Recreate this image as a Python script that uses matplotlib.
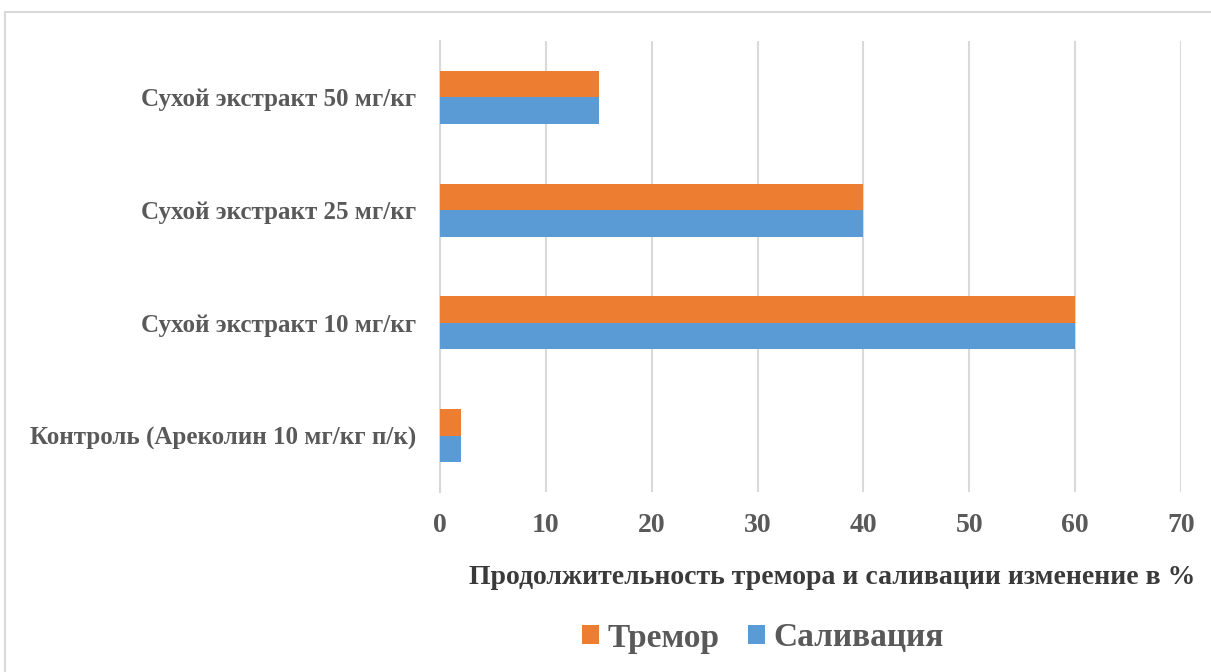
import matplotlib
matplotlib.use("Agg")
import matplotlib.pyplot as plt
from matplotlib.patches import Rectangle, Patch
import numpy as np

categories = [
    "Контроль (Ареколин 10 мг/кг п/к)",
    "Сухой экстракт 10 мг/кг",
    "Сухой экстракт 25 мг/кг",
    "Сухой экстракт 50 мг/кг",
]
tremor = [2, 60, 40, 15]
salivation = [2, 60, 40, 15]
series_names = ["Тремор", "Саливация"]
x_ticks = [0, 10, 20, 30, 40, 50, 60, 70]
x_title = "Продолжительность тремора и саливации изменение в %"

orange = "#ED7D31"
blue = "#5B9BD5"
grid_c = "#D9D9D9"
text_c = "#595959"

plt.rcParams["font.family"] = ["Liberation Serif", "DejaVu Serif"]
plt.rcParams["font.weight"] = "bold"

W, H = 1211, 672
fig = plt.figure(figsize=(W / 100, H / 100), dpi=100)

# outer chart-area frame
fig.patches.append(Rectangle((5 / W, -0.1), 1.2, 1 - 12 / H + 0.1,
                             transform=fig.transFigure, fill=False,
                             edgecolor=grid_c, linewidth=1.5))

ax = fig.add_axes([440 / W, 1 - 492 / H, (1181 - 440) / W, (492 - 41) / H])

y = np.arange(len(categories))
h = 0.235
ax.barh(y + h / 2, tremor, height=h, color=orange, label=series_names[0], zorder=3)
ax.barh(y - h / 2, salivation, height=h, color=blue, label=series_names[1], zorder=3)

ax.set_xlim(0, 70)
ax.set_ylim(-0.5, 3.5)
ax.set_xticks(x_ticks)
ax.set_yticks(y)
ax.set_yticklabels(categories)
ax.xaxis.grid(True, color=grid_c, linewidth=1.5, zorder=0)
ax.set_axisbelow(True)
for s in ["top", "right", "bottom"]:
    ax.spines[s].set_visible(False)
ax.spines["left"].set_color(grid_c)
ax.spines["left"].set_linewidth(1.5)
ax.tick_params(axis="x", length=0, pad=15, labelsize=20, labelcolor=text_c)
ax.tick_params(axis="y", length=0, pad=17, labelsize=18, labelcolor=text_c)
for lab in ax.get_xticklabels() + ax.get_yticklabels():
    lab.set_fontweight("bold")

fig.text(832 / W, 1 - 577 / H, x_title, ha="center", va="center",
         fontsize=20, fontweight="bold", color="#3A3A3A")

handles = [Patch(facecolor=orange, edgecolor="none"), Patch(facecolor=blue, edgecolor="none")]
leg = fig.legend(handles, series_names, loc="center", bbox_to_anchor=(763 / W, 1 - 638 / H),
                 ncol=2, frameon=False, handlelength=0.5, handleheight=0.5,
                 handletextpad=0.27, columnspacing=0.85,
                 prop={"size": 24, "weight": "bold"})
for t in leg.get_texts():
    t.set_color(text_c)

fig.savefig("out.png", dpi=100)
